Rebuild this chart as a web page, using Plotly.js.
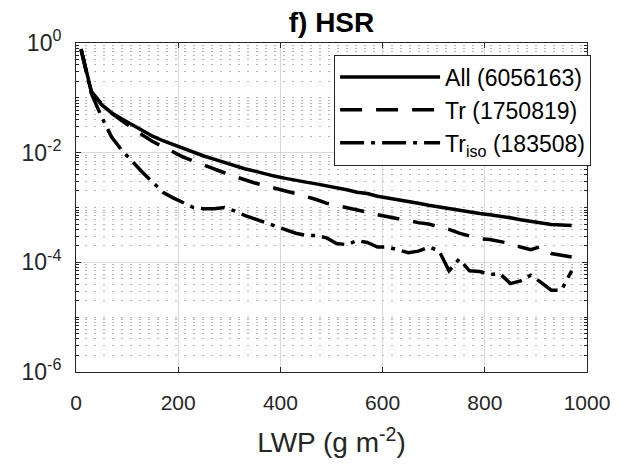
<!DOCTYPE html>
<html>
<head>
<meta charset="utf-8">
<script src="https://cdn.plot.ly/plotly-3.0.1.min.js"></script>
<style>html,body{margin:0;padding:0;background:#fff;}#chart{width:627px;height:464px;}</style>
</head>
<body>
<div id="chart"></div>
<script>
// LWP bin centres (g m^-2)
const lwp = [10,30,50,70,90,110,130,150,170,190,210,230,250,270,290,310,330,350,370,390,410,430,450,470,490,510,530,550,570,590,610,630,650,670,690,710,730,750,770,790,810,830,850,870,890,910,930,950,970];

const allVals = [0.78,0.13,0.075,0.053,0.041,0.032,0.025,0.020,0.0165,0.014,0.0118,0.010,0.0087,0.0076,0.0066,0.0058,0.0051,0.0046,0.0041,0.0037,0.0034,0.0031,0.0029,0.0027,0.0025,0.0023,0.0021,0.0019,0.0018,0.0016,0.0015,0.0014,0.0013,0.0012,0.00110,0.00102,0.00095,0.00088,0.00082,0.00078,0.00074,0.00070,0.00065,0.00060,0.00056,0.00052,0.00049,0.00048,0.00047];

const trVals = [0.75,0.13,0.078,0.052,0.038,0.028,0.021,0.016,0.0127,0.0102,0.0083,0.0070,0.0059,0.0050,0.0043,0.0037,0.0032,0.0028,0.0025,0.0022,0.0020,0.0018,0.0016,0.0014,0.0012,0.0011,0.0010,0.00090,0.00082,0.00074,0.00068,0.00062,0.00057,0.00053,0.00050,0.00045,0.00040,0.00034,0.00030,0.00027,0.00026,0.00024,0.00022,0.00019,0.00017,0.000195,0.000145,0.000135,0.000125];

const trIsoVals = [0.75,0.12,0.045,0.019,0.011,0.0068,0.0044,0.0029,0.0019,0.0015,0.0012,0.0010,0.00095,0.00095,0.0010,0.00087,0.00072,0.00062,0.00053,0.00046,0.00039,0.00034,0.00031,0.00031,0.00028,0.00022,0.00021,0.00025,0.00023,0.00019,0.00019,0.00017,0.00015,0.00016,0.00019,0.000165,0.00007,0.000115,0.00007,0.000068,0.00006,0.000062,0.000041,0.000046,0.000058,0.000043,0.000031,0.000031,0.00007];

const seriesNames = ['All (6056163)', 'Tr (1750819)', 'Tr<sub>iso</sub> (183508)'];
const xTickVals = [0,200,400,600,800,1000];
const yTickVals = [1e-6,1e-4,1e-2,1];
const yTickText = ['10<sup>-6</sup>','10<sup>-4</sup>','10<sup>-2</sup>','10<sup>0</sup>'];

// minor log positions (styling only)
const yMinor = [];
for (let d = -6; d < 0; d++) {
  for (let k = 1; k <= 9; k++) {
    if (k === 1 && d % 2 === 0) continue;
    yMinor.push(k * Math.pow(10, d));
  }
}

const font = 'Liberation Sans, Arial, Helvetica, sans-serif';

const traces = [
  {x: lwp, y: allVals, name: seriesNames[0], legendgroup: 'a', mode: 'lines', line: {color: '#000', width: 3.5}},
  {x: lwp, y: trVals, name: seriesNames[1], legendgroup: 'b', mode: 'lines', line: {color: '#000', width: 3.5, dash: '22px,14px'}},
  {x: lwp, y: trIsoVals, name: seriesNames[2], legendgroup: 'c', mode: 'lines', line: {color: '#000', width: 3.5, dash: '24px,7px,4px,7px'}}
];

const layout = {
  width: 627, height: 464,
  margin: {l: 76, r: 40, t: 43, b: 92},
  paper_bgcolor: '#fff', plot_bgcolor: '#fff',
  font: {family: font, size: 21, color: '#262626'},
  title: {text: '<b>f) HSR</b>', x: 0.5, xref: 'paper', y: 0.953, yanchor: 'middle', font: {family: font, size: 28, color: '#000'}},
  showlegend: true,
  legend: {x: 1.008, xanchor: 'right', y: 0.965, yanchor: 'top', bgcolor: '#fff', bordercolor: '#262626', borderwidth: 1,
           font: {family: font, size: 23, color: '#000'}, itemwidth: 100, tracegroupgap: 0},
  xaxis: {
    range: [0, 1000], tickmode: 'array', tickvals: xTickVals,
    showgrid: true, gridcolor: '#d9d9d9', gridwidth: 1,
    ticks: 'inside', ticklen: 5, tickcolor: '#262626',
    showline: true, linecolor: '#262626', linewidth: 1, mirror: 'ticks',
    zeroline: false, ticklabelstandoff: 12,
    tickfont: {family: font, size: 21, color: '#262626'},
    title: {text: 'LWP (g m<sup>-2</sup>)', font: {family: font, size: 28, color: '#262626'}, standoff: 19}
  },
  yaxis: {
    type: 'log', range: [-6, 0], tickmode: 'array', tickvals: yTickVals, ticktext: yTickText,
    showgrid: true, gridcolor: '#d9d9d9', gridwidth: 1,
    ticks: 'inside', ticklen: 5, tickcolor: '#262626',
    showline: true, linecolor: '#262626', linewidth: 1, mirror: 'ticks',
    zeroline: false, ticklabelstandoff: 9,
    tickfont: {family: font, size: 23, color: '#262626'},
    minor: {tickmode: 'array', tickvals: yMinor, ticks: 'inside', ticklen: 3, tickcolor: '#262626',
            showgrid: true, gridcolor: '#b3b3b3', griddash: '2px,7px', gridwidth: 1}
  }
};

Plotly.newPlot('chart', traces, layout, {displayModeBar: false, staticPlot: true});
</script>
</body>
</html>
